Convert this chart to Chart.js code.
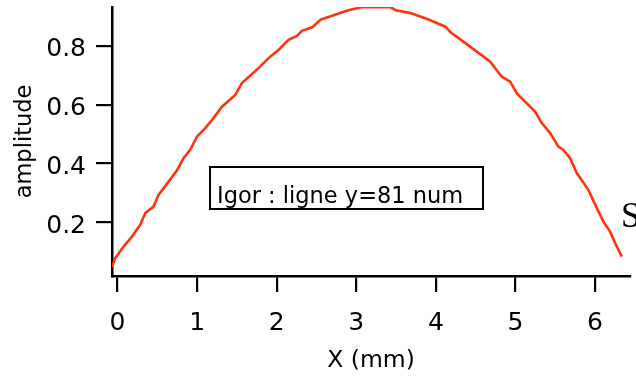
<!DOCTYPE html>
<html>
<head>
<meta charset="utf-8">
<script src="https://cdn.jsdelivr.net/npm/chart.js@4/dist/chart.umd.min.js"></script>
<style>
  html, body { margin: 0; padding: 0; background: #fff; }
  #wrap { position: relative; width: 636px; height: 377px; }
</style>
</head>
<body>
<div id="wrap"><canvas id="c" width="636" height="377"></canvas></div>
<script>
// ---- data ----
const xPositions = [-0.07, -0.029, 0.075, 0.181, 0.285, 0.348, 0.452, 0.515, 0.641, 0.746, 0.829, 0.913,
  0.997, 1.102, 1.206, 1.312, 1.479, 1.563, 1.771, 1.918, 2.023, 2.148, 2.254, 2.317, 2.447, 2.553,
  2.705, 2.897, 3.069, 3.433, 3.497, 3.670, 3.884, 4.121, 4.185, 4.422, 4.680, 4.830, 4.933, 5.024,
  5.163, 5.247, 5.324, 5.436, 5.540, 5.603, 5.687, 5.771, 5.917, 6.023, 6.106, 6.190, 6.253, 6.337];
const amplitude = [0.047, 0.078, 0.117, 0.151, 0.191, 0.231, 0.253, 0.293, 0.338, 0.376, 0.418, 0.446,
  0.491, 0.520, 0.554, 0.593, 0.633, 0.673, 0.724, 0.763, 0.786, 0.820, 0.834, 0.851, 0.863, 0.889,
  0.903, 0.921, 0.931, 0.931, 0.921, 0.912, 0.892, 0.865, 0.846, 0.799, 0.747, 0.695, 0.678, 0.636,
  0.599, 0.576, 0.540, 0.503, 0.457, 0.446, 0.418, 0.367, 0.310, 0.248, 0.202, 0.168, 0.129, 0.083];
const xTicks = [0, 1, 2, 3, 4, 5, 6];
const yTicks = [0.2, 0.4, 0.6, 0.8];
const xTitle = 'X (mm)';
const yTitle = 'amplitude';
const annotationText = 'Igor : ligne y=81 num';
const sideLabel = 'S';

const FONT = 'DejaVu Sans';

const annotPlugin = {
  id: 'annot',
  afterDraw(chart) {
    const ctx = chart.ctx;
    ctx.save();
    ctx.strokeStyle = '#000';
    ctx.lineWidth = 2;
    ctx.strokeRect(210, 167, 273, 42);
    ctx.fillStyle = '#000';
    ctx.font = '22.5px "' + FONT + '"';
    ctx.textBaseline = 'alphabetic';
    ctx.textAlign = 'left';
    ctx.fillText(annotationText, 217, 203);
    ctx.font = '35px "Liberation Serif"';
    ctx.fillText(sideLabel, 621, 227);
    ctx.restore();
  }
};

new Chart(document.getElementById('c'), {
  type: 'line',
  data: {
    datasets: [{
      data: xPositions.map((x, i) => ({ x: x, y: amplitude[i] })),
      borderColor: '#ff3311',
      borderWidth: 2.6,
      pointRadius: 0,
      tension: 0,
      fill: false
    }]
  },
  options: {
    responsive: false,
    animation: false,
    devicePixelRatio: 1,
    layout: { padding: { top: 7, right: 6, left: 0, bottom: 0 } },
    plugins: { legend: { display: false }, tooltip: { enabled: false } },
    scales: {
      x: {
        type: 'linear',
        min: -0.07,
        max: 6.44,
        afterBuildTicks: s => { s.ticks = xTicks.map(v => ({ value: v })); },
        afterFit: s => { s.height = 101; s.paddingLeft = 0; s.paddingRight = 0; },
        border: { display: true, color: '#000', width: 2.5 },
        grid: { drawOnChartArea: false, drawTicks: true, tickLength: 16, color: '#000', lineWidth: 2.2 },
        ticks: { color: '#000', font: { family: FONT, size: 25 }, padding: 16, maxRotation: 0 },
        title: { display: true, text: xTitle, color: '#000', font: { family: FONT, size: 23.5 }, padding: { top: 0, bottom: 2 } }
      },
      y: {
        type: 'linear',
        min: 0.017,
        max: 0.932,
        afterBuildTicks: s => { s.ticks = yTicks.map(v => ({ value: v })); },
        afterFit: s => { s.width = 112; s.paddingTop = 0; s.paddingBottom = 0; },
        border: { display: true, color: '#000', width: 2.5 },
        grid: { drawOnChartArea: false, drawTicks: true, tickLength: 16, color: '#000', lineWidth: 2.2 },
        ticks: { color: '#000', font: { family: FONT, size: 25 }, padding: 10, labelOffset: 4, callback: v => v.toFixed(1) },
        title: { display: true, text: yTitle, color: '#000', font: { family: FONT, size: 22.5 }, padding: { top: 12, bottom: 0 } }
      }
    }
  },
  plugins: [annotPlugin]
});
</script>
</body>
</html>
